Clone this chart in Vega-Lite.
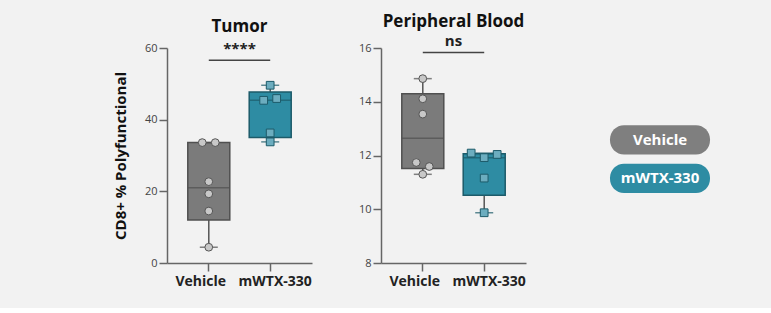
{
  "$schema": "https://vega.github.io/schema/vega-lite/v6.json",
  "background": "#f2f2f2",
  "padding": {"left": 113, "top": 12, "right": 65, "bottom": 20},
  "config": {
    "font": "Open Sans",
    "view": {"stroke": null},
    "axis": {"grid": false, "domainColor": "#666666", "domainWidth": 1.5, "tickColor": "#666666", "tickWidth": 1.5, "tickSize": 8, "labelFontSize": 11, "labelColor": "#444444", "labelFont": "Open Sans"},
    "axisX": {"labelFontSize": 14, "labelFontWeight": "bold", "labelColor": "#222222", "labelAngle": 0, "labelPadding": 3},
    "title": {"fontSize": 17, "fontWeight": "bold", "color": "#111111", "anchor": "middle"}
  },
  "datasets": {
    "boxes": [
      {"tissue": "Tumor", "group": "Vehicle", "min": 4.4, "q1": 12.0, "median": 21.0, "q3": 33.6, "max": 33.6},
      {"tissue": "Tumor", "group": "mWTX-330", "min": 33.8, "q1": 35.05, "median": 45.4, "q3": 47.75, "max": 49.6},
      {"tissue": "Blood", "group": "Vehicle", "min": 11.3, "q1": 11.52, "median": 12.64, "q3": 14.3, "max": 14.86},
      {"tissue": "Blood", "group": "mWTX-330", "min": 9.87, "q1": 10.52, "median": 11.92, "q3": 12.065, "max": 12.09}
    ],
    "points": [
      {"tissue": "Tumor", "group": "Vehicle", "value": 33.6, "jitter": -1},
      {"tissue": "Tumor", "group": "Vehicle", "value": 33.6, "jitter": 1},
      {"tissue": "Tumor", "group": "Vehicle", "value": 22.7, "jitter": 0},
      {"tissue": "Tumor", "group": "Vehicle", "value": 19.3, "jitter": 0},
      {"tissue": "Tumor", "group": "Vehicle", "value": 14.5, "jitter": 0},
      {"tissue": "Tumor", "group": "Vehicle", "value": 4.4, "jitter": 0},
      {"tissue": "Tumor", "group": "mWTX-330", "value": 49.6, "jitter": 0},
      {"tissue": "Tumor", "group": "mWTX-330", "value": 45.4, "jitter": -1},
      {"tissue": "Tumor", "group": "mWTX-330", "value": 45.9, "jitter": 1},
      {"tissue": "Tumor", "group": "mWTX-330", "value": 36.3, "jitter": 0},
      {"tissue": "Tumor", "group": "mWTX-330", "value": 33.8, "jitter": 0},
      {"tissue": "Blood", "group": "Vehicle", "value": 14.86, "jitter": 0},
      {"tissue": "Blood", "group": "Vehicle", "value": 14.11, "jitter": 0},
      {"tissue": "Blood", "group": "Vehicle", "value": 13.54, "jitter": 0},
      {"tissue": "Blood", "group": "Vehicle", "value": 11.74, "jitter": -1},
      {"tissue": "Blood", "group": "Vehicle", "value": 11.59, "jitter": 1},
      {"tissue": "Blood", "group": "Vehicle", "value": 11.3, "jitter": 0},
      {"tissue": "Blood", "group": "mWTX-330", "value": 12.09, "jitter": -2},
      {"tissue": "Blood", "group": "mWTX-330", "value": 11.92, "jitter": 0},
      {"tissue": "Blood", "group": "mWTX-330", "value": 12.04, "jitter": 2},
      {"tissue": "Blood", "group": "mWTX-330", "value": 11.16, "jitter": 0},
      {"tissue": "Blood", "group": "mWTX-330", "value": 9.87, "jitter": 0}
    ],
    "sig": [
      {"tissue": "Tumor", "from": "Vehicle", "to": "mWTX-330", "label": "****", "bar": 56.6, "labelAt": 59.6},
      {"tissue": "Blood", "from": "Vehicle", "to": "mWTX-330", "label": "ns", "bar": 15.83, "labelAt": 16.27}
    ],
    "groups": [{"group": "Vehicle"}, {"group": "mWTX-330"}]
  },
  "spacing": 84,
  "hconcat": [
    {
      "spacing": 46,
      "hconcat": [
        {
          "width": 145,
          "height": 215,
          "title": {"text": "Tumor", "offset": 6},
          "layer": [
            {
              "data": {"name": "boxes"},
              "transform": [{"filter": "datum.tissue === 'Tumor'"}],
              "mark": {"type": "rule", "color": "#555555", "strokeWidth": 1.5},
              "encoding": {
                "x": {"field": "group", "type": "nominal", "sort": ["Vehicle", "mWTX-330"], "scale": {"type": "band", "paddingInner": 0.315, "paddingOuter": 0.338}, "axis": {"title": null, "labelOffset": {"condition": {"test": "datum.value === 'Vehicle'", "value": -8}, "value": 5}}},
                "y": {"field": "min", "type": "quantitative", "scale": {"domain": [0, 60]}, "axis": {"values": [0, 20, 40, 60], "title": "CD8+ % Polyfunctional", "titleFontSize": 15, "titleFontWeight": "bold", "titleColor": "#111111", "titlePadding": 16}},
                "y2": {"field": "max"}
              }
            },
            {
              "data": {"name": "boxes"},
              "transform": [{"filter": "datum.tissue === 'Tumor'"}],
              "mark": {"type": "bar", "strokeWidth": 1.5, "width": 42},
              "encoding": {
                "x": {"field": "group", "type": "nominal", "sort": ["Vehicle", "mWTX-330"]},
                "y": {"field": "q1", "type": "quantitative"},
                "y2": {"field": "q3"},
                "fill": {"condition": {"test": "datum.group === 'Vehicle'", "value": "#7b7b7b"}, "value": "#2e8ca3"},
                "stroke": {"condition": {"test": "datum.group === 'Vehicle'", "value": "#505050"}, "value": "#1d5b6a"}
              }
            },
            {
              "data": {"name": "boxes"},
              "transform": [{"filter": "datum.tissue === 'Tumor'"}],
              "mark": {"type": "tick", "size": 42, "thickness": 1.5},
              "encoding": {
                "x": {"field": "group", "type": "nominal", "sort": ["Vehicle", "mWTX-330"]},
                "y": {"field": "median", "type": "quantitative"},
                "color": {"condition": {"test": "datum.group === 'Vehicle'", "value": "#505050"}, "value": "#1d5b6a"}
              }
            },
            {
              "data": {"name": "boxes"},
              "transform": [{"filter": "datum.tissue === 'Tumor'"}],
              "mark": {"type": "tick", "size": 18, "thickness": 1.5},
              "encoding": {
                "x": {"field": "group", "type": "nominal", "sort": ["Vehicle", "mWTX-330"]},
                "y": {"field": "min", "type": "quantitative"},
                "color": {"condition": {"test": "datum.group === 'Vehicle'", "value": "#505050"}, "value": "#1d5b6a"}
              }
            },
            {
              "data": {"name": "boxes"},
              "transform": [{"filter": "datum.tissue === 'Tumor'"}],
              "mark": {"type": "tick", "size": 18, "thickness": 1.5},
              "encoding": {
                "x": {"field": "group", "type": "nominal", "sort": ["Vehicle", "mWTX-330"]},
                "y": {"field": "max", "type": "quantitative"},
                "color": {"condition": {"test": "datum.group === 'Vehicle'", "value": "#505050"}, "value": "#1d5b6a"}
              }
            },
            {
              "data": {"name": "points"},
              "transform": [{"filter": "datum.tissue === 'Tumor'"}],
              "mark": {"type": "point", "filled": true, "size": 60, "opacity": 1, "strokeWidth": 1},
              "encoding": {
                "x": {"field": "group", "type": "nominal", "sort": ["Vehicle", "mWTX-330"]},
                "xOffset": {"field": "jitter", "type": "quantitative", "scale": {"domain": [-2, 2], "range": [8, 34]}},
                "y": {"field": "value", "type": "quantitative"},
                "shape": {"condition": {"test": "datum.group === 'Vehicle'", "value": "circle"}, "value": "square"},
                "fill": {"condition": {"test": "datum.group === 'Vehicle'", "value": "#c8c8c8"}, "value": "#6cadbf"},
                "stroke": {"condition": {"test": "datum.group === 'Vehicle'", "value": "#555555"}, "value": "#1d5b6a"}
              }
            },
            {
              "data": {"name": "sig"},
              "transform": [{"filter": "datum.tissue === 'Tumor'"}],
              "mark": {"type": "rule", "color": "#444444", "strokeWidth": 1.5},
              "encoding": {
                "x": {"field": "from", "type": "nominal"},
                "x2": {"field": "to"},
                "y": {"field": "bar", "type": "quantitative"}
              }
            },
            {
              "data": {"name": "sig"},
              "transform": [{"filter": "datum.tissue === 'Tumor'"}],
              "mark": {"type": "text", "fontSize": 15, "fontWeight": "bold", "color": "#222222", "baseline": "middle"},
              "encoding": {
                "y": {"field": "labelAt", "type": "quantitative"},
                "text": {"field": "label"}
              }
            }
          ]
        },
        {
          "width": 145,
          "height": 215,
          "title": {"text": "Peripheral Blood", "offset": 3},
          "layer": [
            {
              "data": {"name": "boxes"},
              "transform": [{"filter": "datum.tissue === 'Blood'"}],
              "mark": {"type": "rule", "color": "#555555", "strokeWidth": 1.5},
              "encoding": {
                "x": {"field": "group", "type": "nominal", "sort": ["Vehicle", "mWTX-330"], "scale": {"type": "band", "paddingInner": 0.315, "paddingOuter": 0.338}, "axis": {"title": null, "labelOffset": {"condition": {"test": "datum.value === 'Vehicle'", "value": -8}, "value": 5}}},
                "y": {"field": "min", "type": "quantitative", "scale": {"domain": [8, 16]}, "axis": {"values": [8, 10, 12, 14, 16], "title": null}},
                "y2": {"field": "max"}
              }
            },
            {
              "data": {"name": "boxes"},
              "transform": [{"filter": "datum.tissue === 'Blood'"}],
              "mark": {"type": "bar", "strokeWidth": 1.5, "width": 42},
              "encoding": {
                "x": {"field": "group", "type": "nominal", "sort": ["Vehicle", "mWTX-330"]},
                "y": {"field": "q1", "type": "quantitative"},
                "y2": {"field": "q3"},
                "fill": {"condition": {"test": "datum.group === 'Vehicle'", "value": "#7b7b7b"}, "value": "#2e8ca3"},
                "stroke": {"condition": {"test": "datum.group === 'Vehicle'", "value": "#505050"}, "value": "#1d5b6a"}
              }
            },
            {
              "data": {"name": "boxes"},
              "transform": [{"filter": "datum.tissue === 'Blood'"}],
              "mark": {"type": "tick", "size": 42, "thickness": 1.5},
              "encoding": {
                "x": {"field": "group", "type": "nominal", "sort": ["Vehicle", "mWTX-330"]},
                "y": {"field": "median", "type": "quantitative"},
                "color": {"condition": {"test": "datum.group === 'Vehicle'", "value": "#505050"}, "value": "#1d5b6a"}
              }
            },
            {
              "data": {"name": "boxes"},
              "transform": [{"filter": "datum.tissue === 'Blood'"}],
              "mark": {"type": "tick", "size": 18, "thickness": 1.5},
              "encoding": {
                "x": {"field": "group", "type": "nominal", "sort": ["Vehicle", "mWTX-330"]},
                "y": {"field": "min", "type": "quantitative"},
                "color": {"condition": {"test": "datum.group === 'Vehicle'", "value": "#505050"}, "value": "#1d5b6a"}
              }
            },
            {
              "data": {"name": "boxes"},
              "transform": [{"filter": "datum.tissue === 'Blood'"}],
              "mark": {"type": "tick", "size": 18, "thickness": 1.5},
              "encoding": {
                "x": {"field": "group", "type": "nominal", "sort": ["Vehicle", "mWTX-330"]},
                "y": {"field": "max", "type": "quantitative"},
                "color": {"condition": {"test": "datum.group === 'Vehicle'", "value": "#505050"}, "value": "#1d5b6a"}
              }
            },
            {
              "data": {"name": "points"},
              "transform": [{"filter": "datum.tissue === 'Blood'"}],
              "mark": {"type": "point", "filled": true, "size": 60, "opacity": 1, "strokeWidth": 1},
              "encoding": {
                "x": {"field": "group", "type": "nominal", "sort": ["Vehicle", "mWTX-330"]},
                "xOffset": {"field": "jitter", "type": "quantitative", "scale": {"domain": [-2, 2], "range": [8, 34]}},
                "y": {"field": "value", "type": "quantitative"},
                "shape": {"condition": {"test": "datum.group === 'Vehicle'", "value": "circle"}, "value": "square"},
                "fill": {"condition": {"test": "datum.group === 'Vehicle'", "value": "#c8c8c8"}, "value": "#6cadbf"},
                "stroke": {"condition": {"test": "datum.group === 'Vehicle'", "value": "#555555"}, "value": "#1d5b6a"}
              }
            },
            {
              "data": {"name": "sig"},
              "transform": [{"filter": "datum.tissue === 'Blood'"}],
              "mark": {"type": "rule", "color": "#444444", "strokeWidth": 1.5},
              "encoding": {
                "x": {"field": "from", "type": "nominal"},
                "x2": {"field": "to"},
                "y": {"field": "bar", "type": "quantitative"}
              }
            },
            {
              "data": {"name": "sig"},
              "transform": [{"filter": "datum.tissue === 'Blood'"}],
              "mark": {"type": "text", "fontSize": 15, "fontWeight": "bold", "color": "#222222", "baseline": "middle"},
              "encoding": {
                "y": {"field": "labelAt", "type": "quantitative"},
                "text": {"field": "label"}
              }
            }
          ]
        }
      ]
    },
    {
      "width": 100,
      "height": 145,
      "data": {"name": "groups"},
      "layer": [
        {
          "mark": {"type": "rect", "cornerRadius": 14},
          "encoding": {
            "y": {"field": "group", "type": "nominal", "sort": ["Vehicle", "mWTX-330"], "scale": {"paddingInner": 0.243, "paddingOuter": 1, "align": 1}, "axis": null},
            "fill": {"condition": {"test": "datum.group === 'Vehicle'", "value": "#7f7f7f"}, "value": "#2e8ca3"}
          }
        },
        {
          "mark": {"type": "text", "fontSize": 15, "fontWeight": "bold", "color": "white"},
          "encoding": {
            "y": {"field": "group", "type": "nominal", "sort": ["Vehicle", "mWTX-330"]},
            "text": {"field": "group"}
          }
        }
      ]
    }
  ]
}
